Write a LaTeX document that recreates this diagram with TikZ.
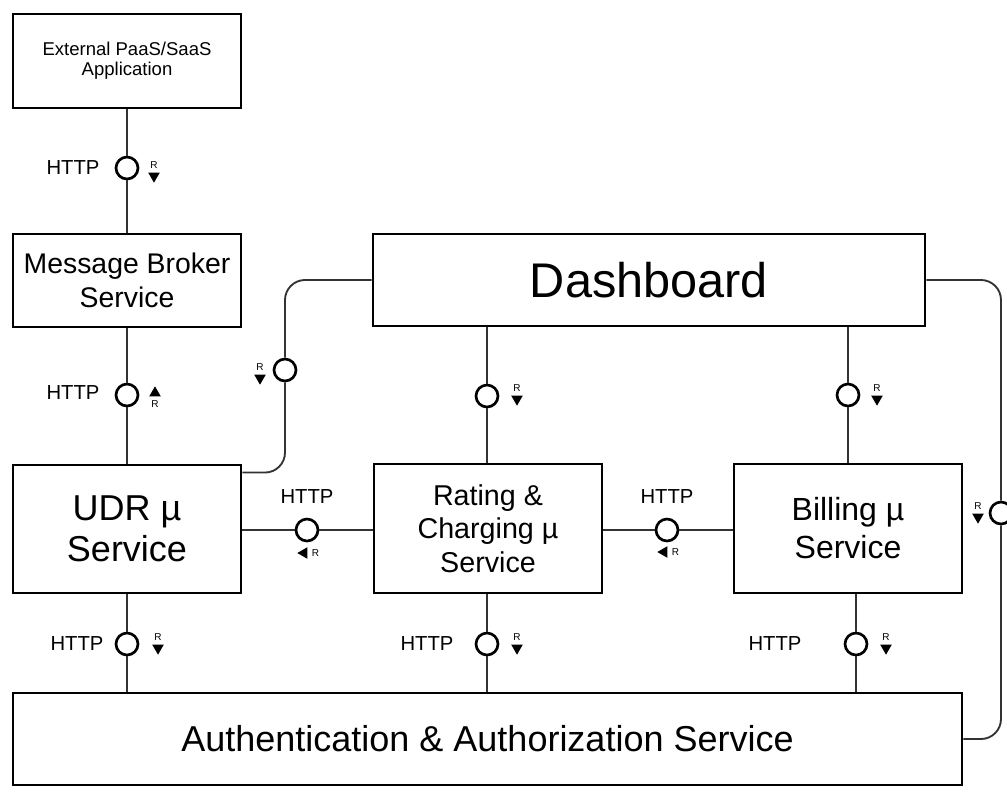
\documentclass[tikz,border=0pt]{standalone}
\usepackage{fontspec}
\setmainfont{Liberation Sans}
\usetikzlibrary{shapes.geometric}
\def \px {0.75pt}
\def \bottomy {644}
\newcommand{\fsz}[2]{\fontsize{#1}{#2}\selectfont}
\tikzstyle{block}=[draw, line width=2.2pt, inner sep=0pt, align=center]
\tikzstyle{iface}=[circle, draw, line width=2pt, fill=white, minimum size=16.5pt, inner sep=0pt]
\tikzstyle{link}=[line width=1.4pt, black!80]
\tikzstyle{proto}=[font=\fsz{15.2}{18}, inner sep=0pt]
\tikzstyle{rmark}=[regular polygon, regular polygon sides=3, fill, inner sep=0pt, minimum size=10pt]
\tikzstyle{rdown}=[rmark, shape border rotate=180, label={[font=\fsz{7.5}{9}, inner sep=0pt, label distance=3pt]above:R}]
\tikzstyle{rup}=[rmark, label={[font=\fsz{7.5}{9}, inner sep=0pt, label distance=3pt]below:R}]
\tikzstyle{rleft}=[rmark, shape border rotate=90, label={[font=\fsz{7.5}{9}, inner sep=0pt, label distance=3pt]right:R}]

\begin{document}
\begin{tikzpicture}[x=\px, y=-\px]
\useasboundingbox (0,0) rectangle (1007,794);

% services
\node[block, minimum width=228*\px, minimum height=94*\px, font=\fsz{13.9}{15}] (ext) at (127,61) {External PaaS/SaaS\\Application};
\node[block, minimum width=228*\px, minimum height=93*\px, font=\fsz{21.3}{25.5}] (mb) at (127,280.5) {Message Broker\\Service};
\node[block, minimum width=228*\px, minimum height=128*\px, font=\fsz{27}{31}] (udr) at (127,529) {UDR µ\\Service};
\node[block, minimum width=552*\px, minimum height=92*\px, font=\fsz{36.5}{40}] (dash) at (649,280) {Dashboard};
\node[block, minimum width=228*\px, minimum height=129*\px, font=\fsz{21.5}{25}] (rat) at (488,528.5) {Rating \&\\Charging µ\\Service};
\node[block, minimum width=228*\px, minimum height=129*\px, font=\fsz{24}{28.5}] (bil) at (848,528.5) {Billing µ\\Service};
\node[block, minimum width=949*\px, minimum height=92*\px, font=\fsz{27}{31}] (auth) at (487.5,739) {Authentication \& Authorization Service};

% interfaces
\node[iface] (c1) at (127,168) {};
\node[iface] (c2) at (127,395) {};
\node[iface] (c3) at (285,370) {};
\node[iface] (c4) at (487,396) {};
\node[iface] (c5) at (848,395) {};
\node[iface] (c6) at (307,530) {};
\node[iface] (c7) at (667,530) {};
\node[iface] (c8) at (1001,513) {};
\foreach \n/\x in {b1/127, b2/487, b3/856}
    \node[iface] (\n) at (\x, \bottomy) {};

% connectors
\draw[link] (ext) -- (c1) -- (mb);
\draw[link] (mb) -- (c2) -- (udr);
\draw[link] (c4 |- dash.south) -- (c4) -- (c4 |- rat.north);
\draw[link] (c5 |- dash.south) -- (c5) -- (c5 |- bil.north);
\draw[link] (udr.east |- c6) -- (c6) -- (rat.west |- c6);
\draw[link] (rat.east |- c7) -- (c7) -- (bil.west |- c7);
\draw[link, rounded corners=15pt] ([yshift=-6.75pt]udr.north east) -| (c3);
\draw[link, rounded corners=15pt] (c3) |- (dash.west);
\draw[link, rounded corners=15pt] (dash.east) -| (c8);
\draw[link, rounded corners=15pt] (c8) |- (auth.east);
\foreach \n/\s in {b1/udr, b2/rat, b3/bil}
    \draw[link] (\n |- \s.south) -- (\n) -- (\n |- auth.north);

% protocol labels
\node[proto] (h1) at (73,168) {HTTP};
\node[proto] (h2) at (73,393) {HTTP};
\node[proto] (h3) at (307,497) {HTTP};
\node[proto] (h4) at (667,497) {HTTP};
\foreach \n/\x in {h5/77, h6/427, h7/775}
    \node[proto] (\n) at (\x, \bottomy) {HTTP};

% request direction marks
\node[rdown] (r1) at (154,176) {};
\node[rup] (r2) at (155,393) {};
\node[rdown] (r3) at (260,378) {};
\node[rdown] (r4) at (517,399) {};
\node[rdown] (r5) at (877,399) {};
\node[rleft] (r6) at (304,553) {};
\node[rleft] (r7) at (664,552) {};
\node[rdown] (r8) at (978,517) {};
\foreach \n/\x in {r9/158, r10/517, r11/886}
    \node[rdown] (\n) at (\x, 648) {};

\end{tikzpicture}
\end{document}
